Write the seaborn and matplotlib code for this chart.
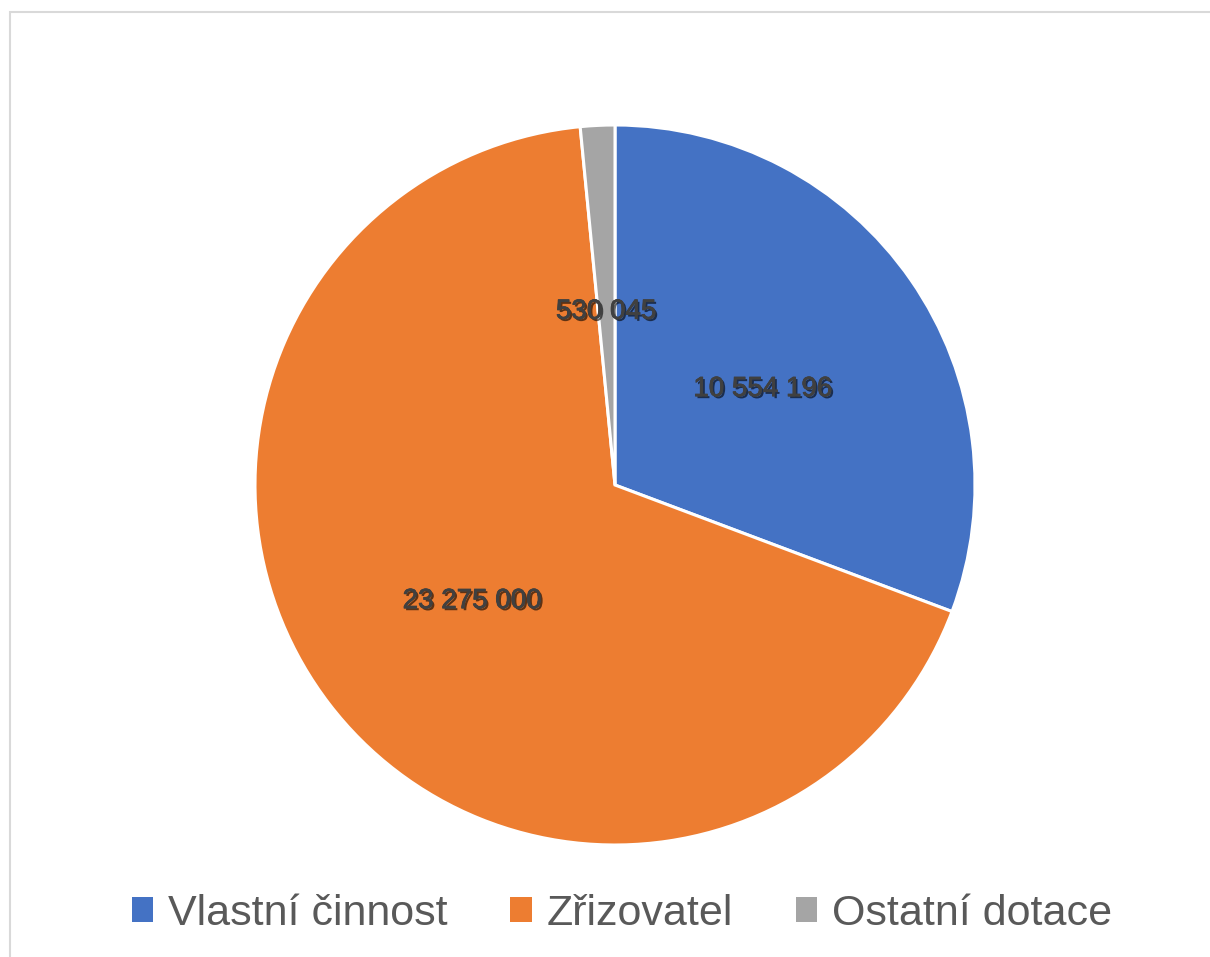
import matplotlib
matplotlib.use("Agg")
import matplotlib.pyplot as plt
import matplotlib.patheffects as pe
from matplotlib.patches import Rectangle, Patch
import seaborn as sns

categories = ["Vlastní činnost", "Zřizovatel", "Ostatní dotace"]
values = [10554196, 23275000, 530045]
value_labels = ["10 554 196", "23 275 000", "530 045"]
colors = ["#4472C4", "#ED7D31", "#A5A5A5"]

sns.set_theme(style="white")
plt.rcParams['font.family'] = ['Liberation Sans', 'DejaVu Sans']

W, H = 1210, 957
fig = plt.figure(figsize=(W / 100, H / 100), dpi=100)
fig.patch.set_facecolor("white")

cx, cy, r = 615, 485, 360
ax = fig.add_axes([(cx - r) / W, (H - cy - r) / H, 2 * r / W, 2 * r / H])

wedges, texts = ax.pie(
    values, labels=value_labels, colors=colors, startangle=90, counterclock=False,
    labeldistance=0.5, radius=1.0,
    wedgeprops=dict(edgecolor="white", linewidth=2.2),
    textprops=dict(fontsize=20, color="#404040"),
)
for w in wedges:
    w.set_clip_on(False)
for t in texts:
    t.set_ha("center")
    t.set_va("center_baseline")
    x, y = t.get_position()
    t.set_position((x, y - 0.01))
    t.set_path_effects([pe.withSimplePatchShadow(offset=(1.5, -1.5), shadow_rgbFace="black", alpha=0.6),
                        pe.Stroke(linewidth=0.6, foreground="#404040"),
                        pe.Normal()])
ax.set_xlim(-1, 1)
ax.set_ylim(-1, 1)
ax.set_aspect("equal")
ax.axis("off")

handles = [Patch(facecolor=c, edgecolor="none") for c in colors]
leg = fig.legend(handles, categories, loc="center", bbox_to_anchor=(622 / W, 1 - 914 / H),
                 ncol=3, frameon=False, fontsize=31, handlelength=0.5, handleheight=0.5,
                 handletextpad=0.35, columnspacing=1.45)
for t in leg.get_texts():
    t.set_color("#595959")

fig.patches.append(Rectangle((9.5 / W, -0.05), 1.2, 1 - 11.5 / H + 0.05, transform=fig.transFigure,
                             fill=False, edgecolor="#D9D9D9", linewidth=1.5, clip_on=False))

fig.savefig("out.png", dpi=100)
